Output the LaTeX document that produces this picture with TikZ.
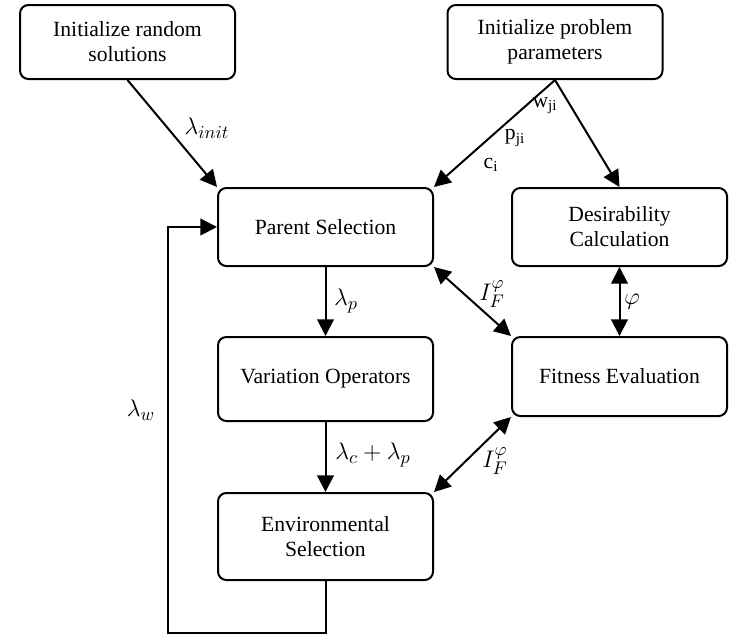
\documentclass[tikz,border=0pt]{standalone}
\usepackage{fontspec}
\setmainfont{Liberation Serif}
\usetikzlibrary{arrows.meta}

\begin{document}
\begin{tikzpicture}[
        x=0.6pt, y=-0.6pt,
        every node/.style={font=\rmfamily\fontsize{13}{15}\selectfont},
        block/.style={
            draw,
            line width=1.2pt,
            rounded corners=5pt,
            minimum width=129pt,
            align=center
        },
        lab/.style={font=\fontsize{15}{17}\selectfont},
        arrow/.style={-{Triangle[length=10pt,width=10pt]}, line width=1.2pt},
        biarrow/.style={{Triangle[length=10pt,width=10pt]}-{Triangle[length=10pt,width=10pt]}, line width=1.2pt}
    ]

    \useasboundingbox (0,0) rectangle (748,635);

    % Initialization nodes
    \node[block, minimum height=44.4pt] (initsol)  at (127.5,42) {Initialize random\\solutions};
    \node[block, minimum height=44.4pt] (initpar)  at (555,42)   {Initialize problem\\parameters};

    % Main loop nodes
    \node[block, minimum height=46.8pt] (parent)    at (325.5,227)   {Parent Selection};
    \node[block, minimum height=46.8pt] (desir)     at (619.5,227)   {Desirability\\Calculation};
    \node[block, minimum height=50.4pt] (variation) at (325.5,379)   {Variation Operators};
    \node[block, minimum height=47.4pt] (fitness)   at (619.5,376.5) {Fitness Evaluation};
    \node[block, minimum height=52.2pt] (environ)   at (325.5,536.5) {Environmental\\Selection};

    % Arrows
    \draw[arrow] (initsol.south) -- (parent.north west);
    \draw[arrow] (initpar.south) -- (parent.north east);
    \draw[arrow] (initpar.south) -- (desir.north);
    \draw[arrow] (parent.south) -- (variation.north);
    \draw[arrow] (variation.south) -- (environ.north);
    \draw[biarrow] (parent.south east) -- (fitness.north west);
    \draw[biarrow] (desir.south) -- (fitness.north);
    \draw[biarrow] (environ.north east) -- (fitness.south west);

    % Feedback loop
    \coordinate (loop) at (168,633);
    \draw[arrow] (environ.south) |- (loop) |- (parent.west);

    % Labels
    \node[lab] (linit) at (207,128) {$\lambda_{init}$};
    \node (wji) at (545,106) {w\textsubscript{ji}};
    \node (pji) at (515,138) {p\textsubscript{ji}};
    \node (ci)  at (491,165) {c\textsubscript{i}};
    \node[lab] (lp)  at (346,301) {$\lambda_p$};
    \node[lab] (lcp) at (373,455) {$\lambda_c + \lambda_p$};
    \node[lab] (lw)  at (141,410) {$\lambda_w$};
    \node[lab] (ifa) at (492,294) {$I_F^{\varphi}$};
    \node[lab] (phi) at (632,302) {$\varphi$};
    \node[lab] (ifb) at (495,461) {$I_F^{\varphi}$};

\end{tikzpicture}
\end{document}
